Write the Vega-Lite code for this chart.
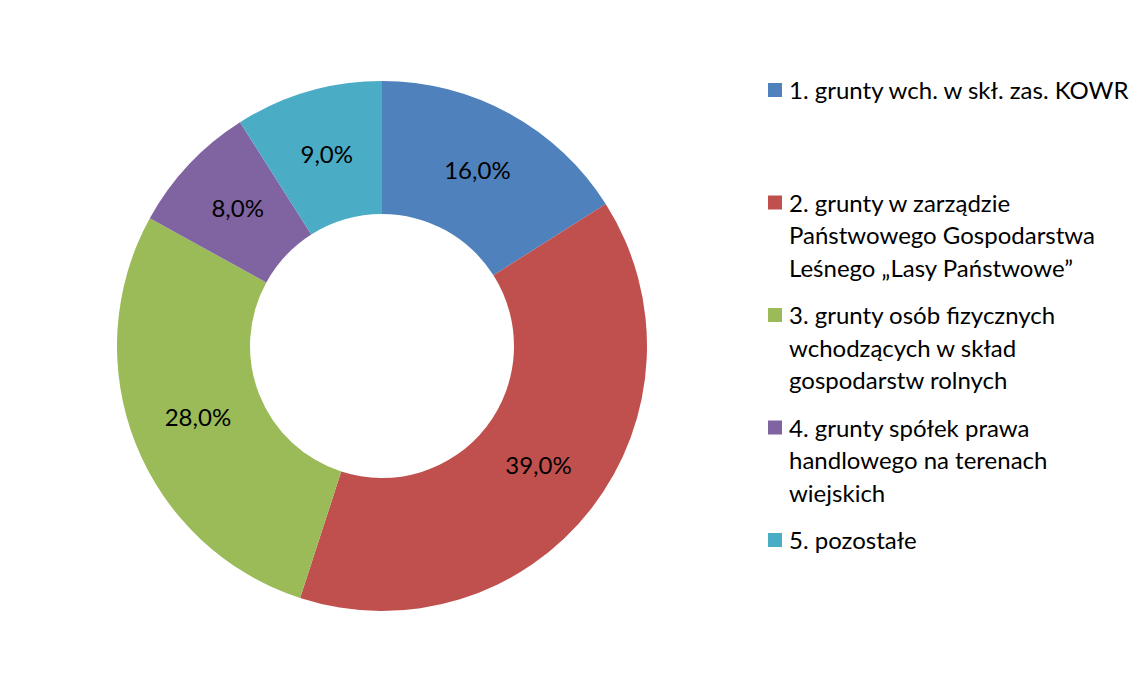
{
  "$schema": "https://vega.github.io/schema/vega-lite/v6.json",
  "width": 764,
  "height": 692,
  "autosize": {"type": "none"},
  "padding": {"left": 0, "top": 0, "right": 384, "bottom": 0},
  "background": "white",
  "config": {
    "view": {"stroke": null},
    "locale": {"number": {"decimal": ",", "thousands": " ", "grouping": [3], "currency": ["", " zł"]}},
    "style": {"guide-label": {"lineHeight": 32.5}}
  },
  "data": {
    "values": [
      {"order": 1, "label": "1. grunty wch. w skł. zas. KOWR||", "share": 0.16},
      {"order": 2, "label": "2. grunty w zarządzie|Państwowego Gospodarstwa|Leśnego „Lasy Państwowe”", "share": 0.39},
      {"order": 3, "label": "3. grunty osób fizycznych|wchodzących w skład|gospodarstw rolnych", "share": 0.28},
      {"order": 4, "label": "4. grunty spółek prawa|handlowego na terenach|wiejskich", "share": 0.08},
      {"order": 5, "label": "5. pozostałe", "share": 0.09}
    ]
  },
  "encoding": {
    "theta": {"field": "share", "type": "quantitative", "stack": true},
    "order": {"field": "order", "type": "quantitative"}
  },
  "layer": [
    {
      "mark": {"type": "arc", "innerRadius": 132, "outerRadius": 265},
      "encoding": {
        "color": {
          "field": "label",
          "type": "nominal",
          "scale": {
            "domain": [
              "1. grunty wch. w skł. zas. KOWR||",
              "2. grunty w zarządzie|Państwowego Gospodarstwa|Leśnego „Lasy Państwowe”",
              "3. grunty osób fizycznych|wchodzących w skład|gospodarstw rolnych",
              "4. grunty spółek prawa|handlowego na terenach|wiejskich",
              "5. pozostałe"
            ],
            "range": ["#4F81BD", "#C0504D", "#9BBB59", "#8064A2", "#4BACC6"]
          },
          "legend": {
            "title": null,
            "orient": "none",
            "legendX": 763,
            "legendY": 68,
            "direction": "vertical",
            "padding": 0,
            "symbolType": "M-1,0.43H1V2.43H-1Z",
            "symbolSize": 196,
            "symbolStrokeWidth": 0,
            "symbolOpacity": 1,
            "labelFont": "Lato",
            "labelFontSize": 24,
            "labelColor": "black",
            "labelBaseline": "top",
            "labelOffset": 2,
            "labelLimit": 400,
            "rowPadding": 11.5,
            "labelExpr": "split(datum.label, '|')"
          }
        }
      }
    },
    {
      "mark": {"type": "text", "radius": 198, "font": "Lato", "fontSize": 24, "color": "black"},
      "encoding": {
        "detail": {"field": "label", "type": "nominal"},
        "text": {"field": "share", "type": "quantitative", "format": ".1%"}
      }
    }
  ]
}
